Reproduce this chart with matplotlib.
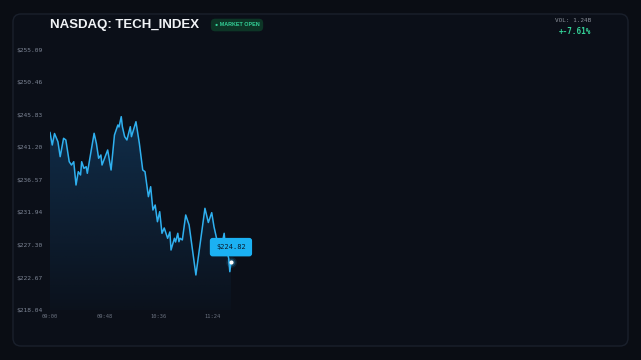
import matplotlib
matplotlib.use("Agg")
import matplotlib.pyplot as plt
import numpy as np
from matplotlib.patches import FancyBboxPatch
from matplotlib.transforms import IdentityTransform

# --- data (minutes after 09:00, price) ---
minutes = [0, 2, 4, 7, 9, 12, 14, 17, 19, 21, 23, 25, 27, 28, 30, 32, 33, 36,
           39, 41, 43, 45, 46, 51, 54, 57, 60, 61, 63, 64, 66, 68, 71, 72, 76,
           79, 82, 84, 87, 89, 91, 93, 95, 97, 99, 101, 104, 106, 107, 110,
           111, 113, 114, 115, 117, 120, 123, 129, 137, 140, 143, 145, 148,
           151, 154, 155, 158, 159, 160]
prices = [243.33, 241.55, 243.19, 242.02, 239.89, 242.51, 242.27, 239.17,
          238.70, 239.17, 235.85, 237.75, 237.28, 239.17, 238.23, 238.46,
          237.52, 240.37, 243.22, 241.79, 239.66, 240.13, 238.70, 240.84,
          237.99, 242.98, 244.40, 244.12, 245.59, 244.16, 242.74, 242.27,
          244.16, 242.74, 244.87, 241.79, 237.99, 237.75, 234.19, 235.61,
          232.29, 233.00, 230.62, 232.05, 228.97, 229.73, 228.26, 229.16,
          226.59, 228.26, 227.73, 228.97, 227.77, 228.26, 228.02, 231.58,
          230.15, 223.03, 232.53, 230.51, 231.91, 229.91, 227.73, 226.59,
          228.97, 227.30, 225.41, 223.50, 224.82]
y_ticks = [218.04, 222.67, 227.30, 231.94, 236.57, 241.20, 245.83, 250.46, 255.09]
x_ticks = [0, 48, 96, 144]
x_labels = ["09:00", "09:48", "10:36", "11:24"]
last_price = 224.82
volume = "1.24B"
change = "+-7.61%"

BG = "#0a0d14"
PANEL = "#0b0f18"
LINE = "#2fb0ef"
MONO = "DejaVu Sans Mono"

fig = plt.figure(figsize=(6.41, 3.6), dpi=100, facecolor=BG)

panel = FancyBboxPatch((13, 14), 615, 332, boxstyle="round,pad=0,rounding_size=8",
                       transform=IdentityTransform(), facecolor=PANEL,
                       edgecolor="#1a202c", linewidth=1, zorder=-1)
fig.patches.append(panel)

ax = fig.add_axes([50 / 641, 50 / 360, 570 / 641, 260 / 360])
ax.set_facecolor("none")
for s in ax.spines.values():
    s.set_visible(False)

t = np.array(minutes, dtype=float)
p = np.array(prices)
ymin, ymax = y_ticks[0], y_ticks[-1]

# gradient area under the line
poly = ax.fill_between(t, p, ymin, color="none", linewidth=0)
grad = np.zeros((256, 1, 4))
grad[:, 0, 0] = 20 / 255
grad[:, 0, 1] = 70 / 255
grad[:, 0, 2] = 115 / 255
grad[:, 0, 3] = np.linspace(0.55, 0.05, 256)
im = ax.imshow(grad, extent=[t[0], t[-1], ymin, p.max()], aspect="auto",
               origin="upper", zorder=1)
im.set_clip_path(poly.get_paths()[0], transform=ax.transData)

ax.plot(t, p, color=LINE, lw=1.1, zorder=3, solid_joinstyle="round")

# end marker with glow
for size, alpha in [(60, 0.12), (30, 0.25)]:
    ax.scatter([t[-1]], [p[-1]], s=size, color=LINE, alpha=alpha, lw=0, zorder=4)
ax.scatter([t[-1]], [p[-1]], s=9, color="white", lw=0, zorder=5)

ax.annotate(f"${last_price:.2f}", (t[-1], p[-1]), xytext=(0, 11),
            textcoords="offset points", ha="center", va="center",
            fontsize=5, family=MONO, color="#0b1a2c", zorder=6,
            bbox=dict(boxstyle="round,pad=0.9,rounding_size=0.4",
                      fc="#1bb1f3", ec="none"))

ax.set_xlim(0, 504)
ax.set_ylim(ymin, ymax)
ax.set_yticks(y_ticks)
ax.set_yticklabels([f"${v:.2f}" for v in y_ticks])
ax.set_xticks(x_ticks)
ax.set_xticklabels(x_labels)
ax.tick_params(axis="y", length=0, pad=24, labelsize=4.5, labelcolor="#7d8595")
ax.tick_params(axis="x", length=0, pad=3, labelsize=3.9, labelcolor="#6b7280")
for lab in ax.get_yticklabels():
    lab.set_ha("left")
    lab.set_family(MONO)
for lab in ax.get_xticklabels():
    lab.set_family(MONO)

# header
fig.text(50 / 641, 1 - 25 / 360, "NASDAQ: TECH_INDEX", fontsize=9.5,
         fontweight="bold", color="#f1f3f6", va="center", ha="left",
         family="Liberation Sans")
fig.text(237 / 641, 1 - 25 / 360, "\u25cf MARKET OPEN", fontsize=3.9,
         fontweight="bold", color="#34d399", va="center", ha="center",
         family="Liberation Sans",
         bbox=dict(boxstyle="round,pad=0.7,rounding_size=0.8", fc="#0d3526",
                   ec="none"))
fig.text(591 / 641, 1 - 20 / 360, f"VOL: {volume}", fontsize=4.3,
         color="#8a8f99", va="center", ha="right", family=MONO)
fig.text(591 / 641, 1 - 31 / 360, change, fontsize=5.5, fontweight="bold",
         color="#34d399", va="center", ha="right", family=MONO)

fig.savefig("out.png", dpi=100, facecolor=BG)
